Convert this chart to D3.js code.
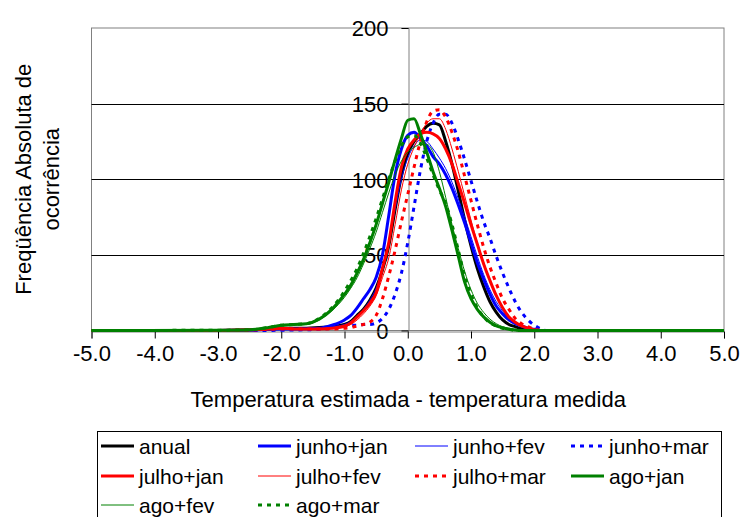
<!DOCTYPE html>
<html>
<head>
<meta charset="utf-8">
<script src="https://cdn.jsdelivr.net/npm/d3@7"></script>
<style>
  html, body { margin: 0; padding: 0; background: #fff; }
  svg { display: block; font-family: "Liberation Sans", Arial, sans-serif; }
</style>
</head>
<body>
<svg id="chart" width="740" height="517"></svg>
<script>
// Temperature difference (estimated - measured), in degrees
const xGrid = [-5.0, -3.0, -2.5, -2.2, -2.0, -1.8, -1.6, -1.4, -1.2, -1.0, -0.9, -0.8, -0.7, -0.6, -0.5, -0.4, -0.3, -0.2, -0.1,
  0.0, 0.1, 0.2, 0.3, 0.4, 0.5, 0.6, 0.7, 0.8, 0.9, 1.0, 1.1, 1.2, 1.3, 1.4, 1.5, 1.6, 1.7, 1.8, 1.9, 2.0, 2.1, 2.2, 2.5, 5.0];

// Absolute frequency of occurrence for each combination
const anual       = [0, 0, 0.3, 1, 1.5, 1.5, 1.5, 2, 2.5, 4, 6, 10, 14, 20, 28, 40, 56, 80, 102, 117, 125, 130, 135, 137, 136, 125, 110, 92, 73, 56, 41, 29, 19, 12, 7, 4, 2.5, 1.2, 0.5, 0, 0, 0, 0, 0];
const junhoJan    = [0, 0, 0.3, 0.8, 1, 1, 1.2, 1.5, 3.5, 7, 10, 15, 21, 27, 35, 50, 76, 103, 120, 129, 131, 127, 122, 115, 110, 103, 94, 83, 71, 58, 45, 34, 24, 16, 11, 7, 4.5, 3, 1.5, 0.8, 0, 0, 0, 0];
const junhoFev    = [0, 0, 0.3, 0.8, 1, 1, 1.2, 1.5, 2.5, 4, 6, 9, 14, 20, 28, 40, 58, 80, 100, 114, 122, 126, 125, 120, 114, 107, 98, 87, 75, 62, 49, 37, 27, 19, 13, 8, 5, 3, 1.5, 0.5, 0, 0, 0, 0];
const junhoMar    = [0, 0, 0, 0, 0.2, 0.3, 0.5, 0.8, 1.5, 3, 3.5, 3.5, 4, 4, 5, 8, 14, 24, 38, 58, 82, 106, 125, 137, 143, 143, 137, 126, 113, 99, 85, 72, 61, 49, 38, 28, 19, 12, 7, 3.5, 1.2, 0, 0, 0];
const julhoJan    = [0, 0, 0.5, 1, 1.5, 1, 1, 1, 1.5, 3, 5, 9, 13, 18, 25, 41, 58, 85, 108, 120, 126, 130, 131, 130, 127, 120, 110, 97, 84, 70, 57, 44, 33, 23, 15, 9, 5.5, 3, 1.5, 0.5, 0, 0, 0, 0];
const julhoFev    = [0, 0, 0.3, 0.8, 1, 1, 1, 1, 1.5, 2.5, 4, 7, 11, 16, 23, 35, 48, 70, 93, 110, 121, 130, 137, 140, 140, 133, 120, 105, 89, 73, 58, 45, 33, 23, 15, 9, 5, 3, 1.5, 0.5, 0, 0, 0, 0];
const julhoMar    = [0, 0, 0.3, 0.8, 1, 1, 1, 1, 1, 1.5, 2, 3, 4, 5.5, 10, 21, 36, 53, 72, 90, 108, 125, 138, 145, 146, 141, 131, 118, 102, 86, 70, 55, 42, 31, 21, 14, 8, 4.5, 2.5, 1, 0, 0, 0, 0];
const agoJan      = [0, 0.2, 0.5, 2, 3.5, 4, 4.5, 7.5, 14, 24, 30, 38, 47, 58, 70, 84, 98, 113, 127, 139, 140, 130, 118, 105, 94, 82, 66, 49, 32, 21, 14, 9, 5.5, 3, 1.8, 0.8, 0.3, 0, 0, 0, 0, 0, 0, 0];
const agoFev      = [0, 0.2, 0.5, 2, 3, 3.5, 4, 7, 13, 22, 28, 35, 44, 54, 65, 78, 91, 103, 112, 118, 121, 123, 123, 118, 105, 88, 70, 54, 39, 27, 18, 12, 7.5, 4.5, 2.5, 1.5, 0.7, 0, 0, 0, 0, 0, 0, 0];
const agoMar      = [0, 0.2, 0.5, 2, 3.5, 4, 4.5, 8, 15, 26, 33, 41, 51, 62, 74, 87, 100, 112, 122, 128, 129, 124, 114, 103, 93, 84, 70, 53, 36, 24, 15, 9, 5, 3, 1.5, 0.8, 0, 0, 0, 0, 0, 0, 0, 0];

const seriesNames = ["anual", "junho+jan", "junho+fev", "junho+mar", "julho+jan", "julho+fev", "julho+mar", "ago+jan", "ago+fev", "ago+mar"];
const seriesValues = [anual, junhoJan, junhoFev, junhoMar, julhoJan, julhoFev, julhoMar, agoJan, agoFev, agoMar];

const xTicks = [-5, -4, -3, -2, -1, 0, 1, 2, 3, 4, 5];
const yTicks = [0, 50, 100, 150, 200];
const yGridTicks = [50, 100, 150];

const xTitle = "Temperatura estimada - temperatura medida";
const yTitleLines = ["Freqüência Absoluta de", "ocorrência"];

// line look per series: colour, width, dashing
const looks = [
  { color: "#000000", width: 3, dash: null },
  { color: "#0000ff", width: 3, dash: null },
  { color: "#0000ff", width: 1, dash: null },
  { color: "#0000ff", width: 3, dash: "4,5" },
  { color: "#ff0000", width: 3, dash: null },
  { color: "#ff0000", width: 1, dash: null },
  { color: "#ff0000", width: 3, dash: "4,5" },
  { color: "#008000", width: 3, dash: null },
  { color: "#008000", width: 1, dash: null },
  { color: "#008000", width: 3, dash: "4,5" }
];

const svg = d3.select("#chart");
const plot = { left: 91.5, right: 724, top: 28, bottom: 330.5 };

const x = d3.scaleLinear().domain([-5, 5]).range([plot.left, plot.right]);
const y = d3.scaleLinear().domain([0, 200]).range([plot.bottom, plot.top]);

// plot frame
svg.append("rect")
  .attr("x", plot.left).attr("y", plot.top)
  .attr("width", plot.right - plot.left).attr("height", plot.bottom - plot.top)
  .attr("fill", "#fff").attr("stroke", "#808080").attr("stroke-width", 1);

// horizontal gridlines
svg.append("g").selectAll("line").data(yGridTicks).join("line")
  .attr("x1", plot.left).attr("x2", plot.right)
  .attr("y1", d => Math.round(y(d)) + 0.5).attr("y2", d => Math.round(y(d)) + 0.5)
  .attr("stroke", "#000").attr("stroke-width", 1);

// y axis crossing at x = 0
const yAxis = svg.append("g")
  .attr("transform", `translate(${Math.round(x(0)) + 0.5},0)`)
  .call(d3.axisLeft(y).tickValues(yTicks).tickSize(7).tickPadding(13).tickFormat(d => String(d)));
yAxis.select(".domain").attr("stroke", "#808080");
yAxis.selectAll(".tick line").attr("stroke", "#000");
yAxis.selectAll(".tick text")
  .attr("font-size", 22).attr("fill", "#000")
  .attr("font-family", "'Liberation Sans', Arial, sans-serif")
  .attr("dy", "0.36em");

// x axis along y = 0
const xAxis = svg.append("g")
  .attr("transform", `translate(0,${Math.round(y(0)) + 0.5})`)
  .call(d3.axisBottom(x).tickValues(xTicks).tickSize(7).tickPadding(8).tickFormat(d => d.toFixed(1)));
xAxis.select(".domain").attr("stroke", "#808080");
xAxis.selectAll(".tick line").attr("stroke", "#000");
xAxis.selectAll(".tick text")
  .attr("font-size", 22).attr("fill", "#000")
  .attr("font-family", "'Liberation Sans', Arial, sans-serif")
  .attr("y", 29).attr("dy", 0);

// series curves
const line = d3.line()
  .x((d, i) => x(xGrid[i]))
  .y(d => y(d))
  .curve(d3.curveMonotoneX);

const curves = svg.append("g");
seriesValues.forEach((vals, k) => {
  const lk = looks[k];
  curves.append("path")
    .attr("d", line(vals))
    .attr("fill", "none")
    .attr("stroke", lk.color)
    .attr("stroke-width", lk.width)
    .attr("stroke-dasharray", lk.dash)
    .attr("stroke-linejoin", "round");
});

// axis titles
svg.append("text")
  .attr("x", (plot.left + plot.right) / 2 + 0.5).attr("y", 407)
  .attr("text-anchor", "middle").attr("font-size", 22).attr("fill", "#000")
  .text(xTitle);

const yTitle = svg.append("text")
  .attr("transform", `translate(0,${(plot.top + plot.bottom) / 2}) rotate(-90)`)
  .attr("text-anchor", "middle").attr("font-size", 22).attr("fill", "#000");
yTitle.selectAll("tspan").data(yTitleLines).join("tspan")
  .attr("x", 0).attr("y", (d, i) => 31 + i * 28)
  .text(d => d);

// legend
const legend = svg.append("g");
legend.append("rect")
  .attr("x", 97.5).attr("y", 431.5).attr("width", 624).attr("height", 100)
  .attr("fill", "#fff").attr("stroke", "#000").attr("stroke-width", 1);

const colX = [101, 258, 415, 571];
const rowY = [446, 476, 505];
seriesNames.forEach((name, k) => {
  const cx = colX[k % 4], cy = rowY[Math.floor(k / 4)];
  const lk = looks[k];
  legend.append("line")
    .attr("x1", cx).attr("x2", cx + 33).attr("y1", cy).attr("y2", cy)
    .attr("stroke", lk.color).attr("stroke-width", lk.width)
    .attr("stroke-dasharray", lk.dash);
  legend.append("text")
    .attr("x", cx + 38).attr("y", cy + 8)
    .attr("font-size", 21).attr("fill", "#000")
    .text(name);
});
</script>
</body>
</html>
